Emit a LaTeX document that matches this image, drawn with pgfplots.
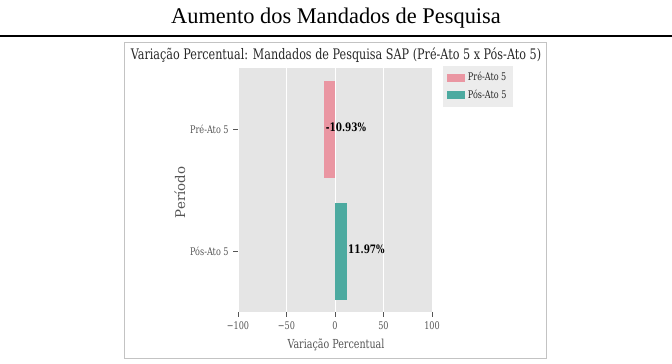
\documentclass[border=0pt]{standalone}
\usepackage{fontspec}
\setmainfont{Liberation Serif}
\newfontfamily\dvc[FakeStretch=0.77]{DejaVu Serif}
\newfontfamily\dvr{DejaVu Serif}
\usepackage{pgfplots}
\pgfplotsset{compat=1.18}
\definecolor{prec}{RGB}{234,150,162}
\definecolor{posc}{RGB}{76,170,160}
\definecolor{bgc}{RGB}{229,229,229}
\definecolor{legc}{RGB}{236,236,236}
\definecolor{txg}{RGB}{85,85,85}
\definecolor{boxc}{RGB}{195,195,195}
\begin{document}
\begin{tikzpicture}
\path[use as bounding box] (0,0) rectangle (504pt,-273pt);
\node[font=\fontsize{16.8}{19}\selectfont] at (252pt,-13.5pt) {Aumento dos Mandados de Pesquisa};
\draw[line width=0.9pt] (0,-27pt) -- (504pt,-27pt);
\draw[line width=0.75pt, draw=boxc] (93pt,-31.5pt) rectangle (409.5pt,-268.5pt);
\node[font=\dvc\fontsize{10.9}{12}\selectfont, text={rgb,255:red,40;green,40;blue,40}] at (252pt,-41.5pt) {Variação Percentual: Mandados de Pesquisa SAP (Pré-Ato 5 x Pós-Ato 5)};
\begin{axis}[
  at={(178.5pt,-234pt)}, anchor=south west,
  scale only axis, width=145.5pt, height=183pt,
  xmin=-100, xmax=100, ymin=-0.5, ymax=1.5, y dir=reverse,
  xbar, bar width=72.75pt, bar shift=0pt,
  axis background/.style={fill=bgc},
  axis line style={draw=none},
  xmajorgrids, grid style={white, line width=0.75pt},
  xtick={-100,-50,0,50,100}, xticklabels={−100,−50,0,50,100},
  ytick={0,1}, yticklabels={Pré-Ato 5,Pós-Ato 5},
  tick align=outside, xtick pos=bottom, ytick pos=left,
  major tick length=3.5pt,
  tick style={txg, line width=0.6pt},
  ticklabel style={font=\dvc\fontsize{7.9}{9}\selectfont, text=txg},
  xlabel={Variação Percentual}, ylabel={Período},
  xlabel style={font=\dvc\fontsize{9.3}{11}\selectfont, text=txg, at={(axis description cs:0.505,-0.135)}, anchor=center},
  ylabel style={font=\dvr\fontsize{10}{12}\selectfont, text=txg, at={(axis description cs:-0.30,0.49)}, anchor=center},
  point meta=explicit symbolic,
  nodes near coords,
  every node near coord/.append style={anchor=west, inner sep=1pt, yshift=1.5pt, font=\dvc\bfseries\fontsize{8.7}{10}\selectfont, text=black},
  legend style={at={(axis description cs:1.0567,1.008)}, anchor=north west, fill=legc, draw=none,
    font=\dvc\fontsize{7.9}{9}\selectfont, text={rgb,255:red,40;green,40;blue,40}, inner xsep=3pt, inner ysep=2.5pt,
    row sep=1.5pt},
  legend cell align=left,
  legend image code/.code={\fill[#1] (0pt,-3pt) rectangle (13.5pt,3pt);},
]
\addplot[fill=prec, draw=none] coordinates {(-10.93,0) [-10.93\%]};
\addplot[fill=posc, draw=none] coordinates {(11.97,1) [11.97\%]};
\legend{Pré-Ato 5, Pós-Ato 5}
\end{axis}
\end{tikzpicture}
\end{document}
